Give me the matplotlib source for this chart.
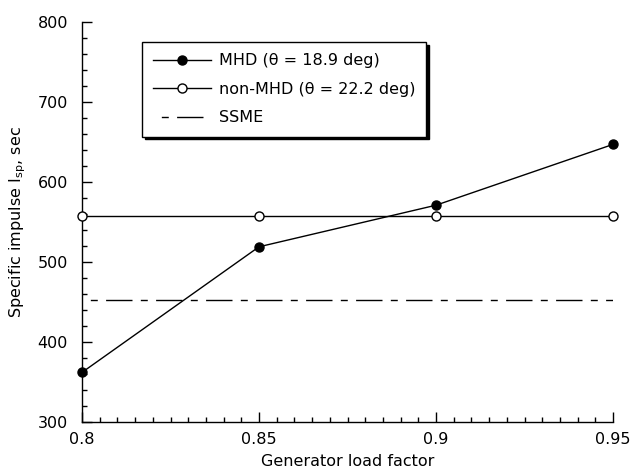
import matplotlib
matplotlib.use("Agg")
import matplotlib.pyplot as plt
from matplotlib.ticker import MultipleLocator, FixedLocator

plt.rcParams['font.family'] = ['DejaVu Sans']
plt.rcParams['mathtext.default'] = 'regular'

load_factor = [0.80, 0.85, 0.90, 0.95]
mhd_isp = [362, 519, 571, 647]
non_mhd_isp = [558, 558, 558, 558]
ssme_x = [0.80, 0.95]
ssme_isp = [452, 452]

fs = 11.5

fig = plt.figure(figsize=(6.32, 4.72), dpi=100)
ax = fig.add_axes([82/632, 50/472, (613-82)/632, 400/472])

ax.plot(load_factor, mhd_isp, '-', color='black', lw=1.0, marker='o',
        markersize=6.5, markerfacecolor='black', markeredgecolor='black',
        label='MHD (θ = 18.9 deg)', clip_on=False, zorder=3)
ax.plot(load_factor, non_mhd_isp, '-', color='black', lw=1.0, marker='o',
        markersize=6.5, markerfacecolor='white', markeredgecolor='black',
        markeredgewidth=1.0, label='non-MHD (θ = 22.2 deg)', clip_on=False, zorder=3)
ax.plot(ssme_x, ssme_isp, color='black', lw=1.0, label='SSME',
        linestyle=(19, (19, 6, 5, 6)), dash_capstyle='butt')

ax.set_xlim(0.8, 0.95)
ax.set_ylim(300, 800)
ax.spines['top'].set_visible(False)
ax.spines['right'].set_visible(False)
ax.spines['left'].set_linewidth(1.0)
ax.spines['bottom'].set_linewidth(1.0)

ax.xaxis.set_major_locator(FixedLocator(load_factor))
ax.set_xticklabels(['0.8', '0.85', '0.9', '0.95'])
ax.xaxis.set_minor_locator(MultipleLocator(0.005))
ax.yaxis.set_major_locator(MultipleLocator(100))
ax.yaxis.set_minor_locator(MultipleLocator(20))
ax.tick_params(which='major', direction='in', length=7, width=1.0, labelsize=fs, pad=7, colors='black')
ax.tick_params(which='minor', direction='in', length=3.5, width=1.0)
ax.tick_params(axis='y', which='major', pad=10)

ax.set_xlabel('Generator load factor', fontsize=fs, labelpad=5)
ax.set_ylabel('Specific impulse I$_{sp}$, sec', fontsize=fs, labelpad=7)

leg = ax.legend(loc='upper left', bbox_to_anchor=(0.113, 0.95), borderaxespad=0,
                fancybox=False, edgecolor='black', framealpha=1,
                shadow={'color': 'black', 'alpha': 1}, fontsize=fs,
                handlelength=3.6, borderpad=0.7, labelspacing=0.85,
                handletextpad=0.5)
leg.get_frame().set_linewidth(1.0)

fig.savefig('out.png', dpi=100)
